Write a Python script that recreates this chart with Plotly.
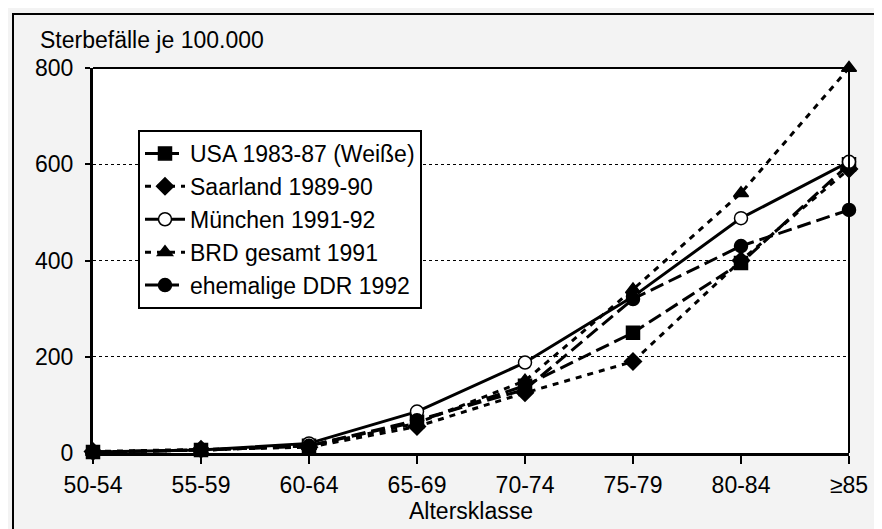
import plotly.graph_objects as go

categories = ["50-54", "55-59", "60-64", "65-69", "70-74", "75-79", "80-84", "≥85"]
usa = [2, 6, 15, 65, 140, 250, 395, 600]
saarland = [3, 8, 12, 55, 125, 190, 400, 590]
muenchen = [2, 6, 20, 86, 188, 325, 488, 605]
brd = [2, 6, 14, 62, 150, 340, 540, 800]
ddr = [2, 6, 15, 68, 132, 320, 430, 505]

x = list(range(len(categories)))
FONT = "Liberation Sans, Arial, Helvetica, sans-serif"
FS = 23

series = [
    ("USA 1983-87 (Weiße)", usa, "square", "black", "14px,6px"),
    ("Saarland 1989-90", saarland, "diamond", "black", "6px,6px"),
    ("München 1991-92", muenchen, "circle", "white", "solid"),
    ("BRD gesamt 1991", brd, "triangle-up", "black", "6px,6px"),
    ("ehemalige DDR 1992", ddr, "circle", "black", "14px,6px"),
]

# page body has an 8px margin; figure coordinates = screenshot coordinates - 8
W, H = 874, 521
L, R, T, B = 85, 33, 60, 76
PW, PH = W - L - R, H - T - B
OFF = 8


def px(xs):
    return (xs - OFF - L) / PW


def py(ys):
    return (H - B - (ys - OFF)) / PH


fig = go.Figure()
for name, vals, sym, fill, dash in series:
    fig.add_trace(go.Scatter(
        x=x, y=vals, name=name, mode="lines+markers",
        line=dict(color="black", width=3, dash=dash),
        marker=dict(symbol=sym, size=13, color=fill, line=dict(color="black", width=1.5)),
        cliponaxis=False,
    ))

fig.update_layout(
    width=W, height=H,
    margin=dict(l=L, r=R, t=T, b=B, autoexpand=False),
    paper_bgcolor="#f3f3f3", plot_bgcolor="white",
    font=dict(family=FONT, size=FS, color="black"),
    showlegend=True,
    legend=dict(x=px(138), y=py(130), xanchor="left", yanchor="top",
                bgcolor="white", bordercolor="black", borderwidth=2,
                font=dict(size=FS), tracegroupgap=0, itemwidth=40),
    xaxis=dict(range=[0, 7], tickvals=x, ticktext=categories,
               showgrid=False, zeroline=False, showline=True, linewidth=3, linecolor="black",
               ticks="outside", ticklen=8, tickwidth=2, tickcolor="black",
               ticklabelstandoff=1,
               title=dict(text="Altersklasse", standoff=0, font=dict(size=FS))),
    yaxis=dict(range=[0, 800], tickvals=[0, 200, 400, 600, 800],
               showgrid=True, gridcolor="black", gridwidth=1, griddash="dot",
               zeroline=False, showline=True, linewidth=3, linecolor="black",
               ticks="outside", ticklen=5, tickwidth=2, tickcolor="black",
               ticklabelstandoff=7),
    annotations=[dict(text="Sterbefälle je 100.000", xref="paper", yref="paper",
                      x=px(38), y=py(40), xanchor="left", yanchor="middle",
                      showarrow=False, font=dict(size=FS))],
    shapes=[
        dict(type="line", xref="paper", yref="paper", x0=0, x1=1, y0=1, y1=1,
             line=dict(color="black", width=2)),
        dict(type="line", xref="paper", yref="paper", x0=1, x1=1, y0=0, y1=1,
             line=dict(color="black", width=2)),
        dict(type="rect", xref="paper", yref="paper",
             x0=px(13), x1=px(900), y0=py(560), y1=py(14),
             line=dict(color="black", width=2), layer="below"),
    ],
)

fig.write_html("out.html")
